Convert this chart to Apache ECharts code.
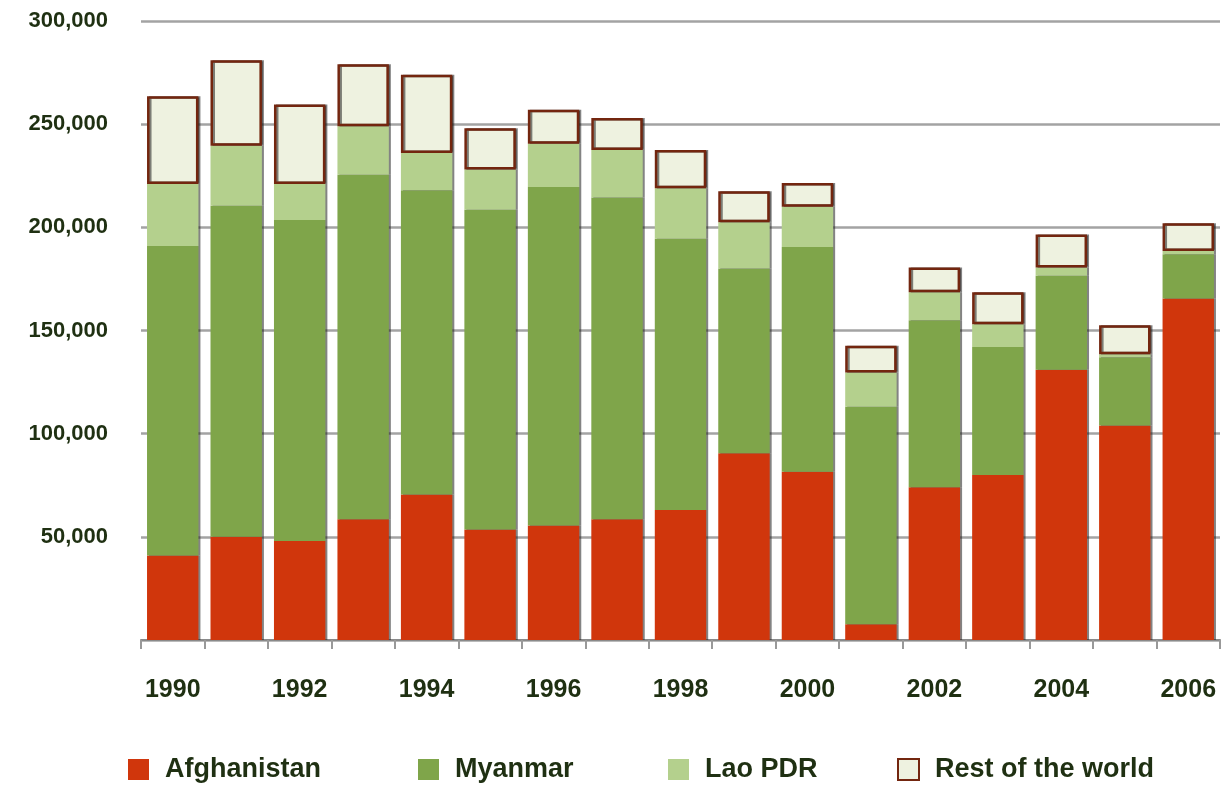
<!DOCTYPE html>
<html><head><meta charset="utf-8">
<script src="https://cdn.jsdelivr.net/npm/echarts@6/dist/echarts.min.js"></script>
<style>html,body{margin:0;padding:0;background:#fff}#c{width:1229px;height:785px}</style>
</head><body><div id="c"></div>
<script>
const years = ['1990','1991','1992','1993','1994','1995','1996','1997','1998','1999','2000','2001','2002','2003','2004','2005','2006'];
const afghanistan = [41000, 50000, 48000, 58500, 70500, 53500, 55500, 58500, 63000, 90500, 81500, 7600, 74000, 80000, 131000, 104000, 165500];
const myanmar = [150000, 160500, 155500, 167000, 147500, 155000, 164000, 156000, 131500, 89500, 109000, 105500, 81000, 62000, 45500, 33000, 21500];
const laoPDR = [30000, 29000, 17500, 23500, 18000, 19500, 21000, 23000, 24500, 22500, 19500, 16500, 13500, 11000, 4000, 1500, 1500];
const restOfWorld = [42500, 41500, 38500, 30000, 38000, 20000, 16500, 15500, 18500, 15000, 11500, 13000, 12000, 15500, 16000, 14000, 13500];

const txt = '#1f3012';
const font = 'Liberation Sans, Arial, sans-serif';
const shadow = {shadowColor:'rgba(30,30,30,0.55)', shadowOffsetX:2, shadowBlur:0};
function mk(name, data, color, extra){
  return {name, type:'bar', stack:'t', data, barCategoryGap:'19%',
    itemStyle:Object.assign({color}, shadow, extra||{}), emphasis:{disabled:true}};
}
const chart = echarts.init(document.getElementById('c'));
const legendBase = {top:751, itemWidth:21, itemHeight:21, icon:'rect',
  textStyle:{fontFamily:font, fontWeight:'bold', fontSize:27, color:txt, padding:[0,0,0,11]}};
chart.setOption({
  animation:false,
  grid:{left:141, right:9, top:21, bottom:145},
  legend:[
    Object.assign({left:123, data:['Afghanistan']}, legendBase),
    Object.assign({left:413, data:['Myanmar']}, legendBase),
    Object.assign({left:663, data:['Lao PDR']}, legendBase),
    Object.assign({left:892, data:['Rest of the world']}, legendBase)
  ],
  xAxis:{type:'category', data:years,
    axisLine:{lineStyle:{color:'#8a8a8a', width:2}},
    axisTick:{show:true, interval:0, length:9, lineStyle:{color:'#999', width:2}},
    axisLabel:{interval:1, margin:38, fontFamily:font, fontWeight:'bold', fontSize:25, color:txt}},
  yAxis:{type:'value', min:0, max:300000, interval:50000,
    axisLine:{show:false}, axisTick:{show:false},
    splitLine:{lineStyle:{color:'#a3a3a3', width:2.5}},
    axisLabel:{margin:33, fontFamily:font, fontWeight:'bold', fontSize:22, color:txt,
      formatter:v => v===0 ? '' : v.toLocaleString('en-US')}},
  series:[
    mk('Afghanistan', afghanistan, '#d0360c'),
    mk('Myanmar', myanmar, '#7fa54a'),
    mk('Lao PDR', laoPDR, '#b4d08d'),
    mk('Rest of the world', restOfWorld, '#eef2e0', {borderColor:'#73260f', borderWidth:2.5})
  ]
});
</script></body></html>
